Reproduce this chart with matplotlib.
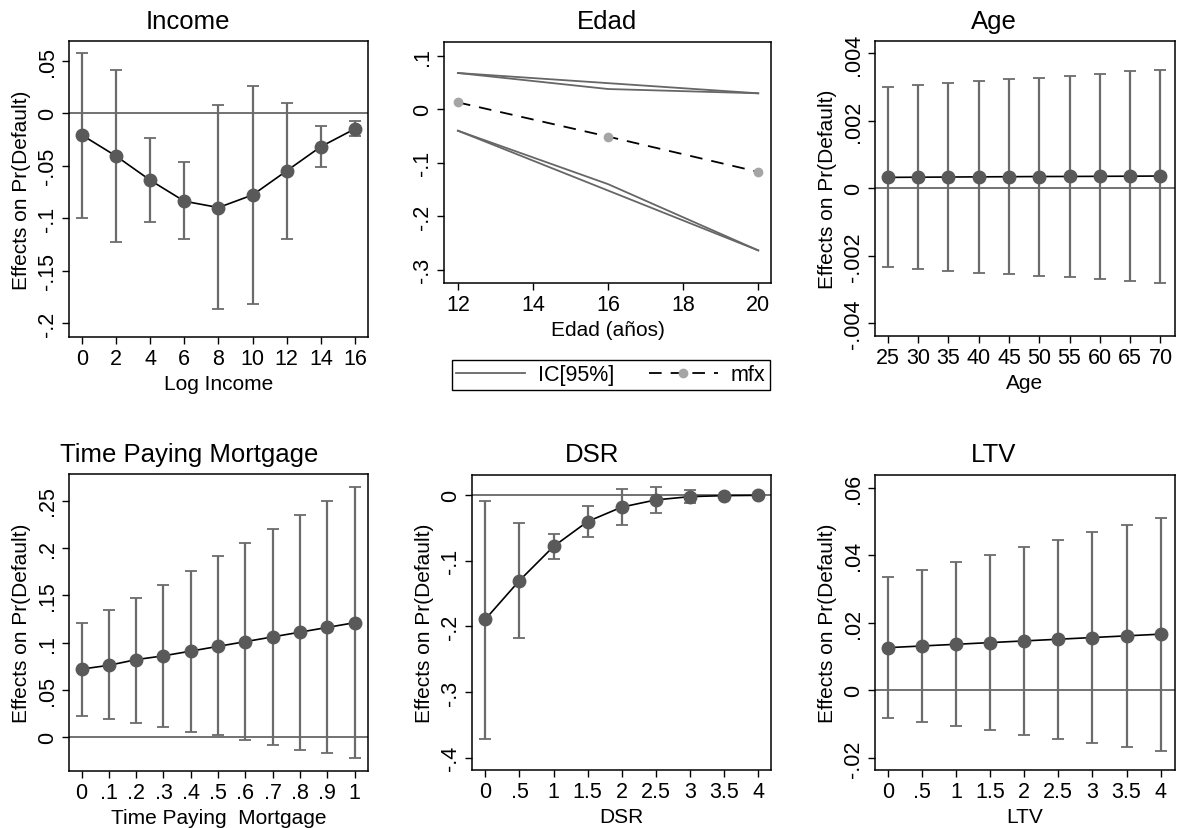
import numpy as np
import matplotlib
matplotlib.use("Agg")
from matplotlib import pyplot as plt

plt.rcParams['font.family'] = ['Liberation Sans', 'DejaVu Sans']

W, H = 1177, 829

# --- data ---
income_x = [0, 2, 4, 6, 8, 10, 12, 14, 16]
income_y = [-0.021, -0.041, -0.064, -0.084, -0.090, -0.078, -0.055, -0.032, -0.015]
income_hi = [0.057, 0.041, -0.024, -0.047, 0.008, 0.026, 0.010, -0.012, -0.008]
income_lo = [-0.100, -0.123, -0.104, -0.120, -0.187, -0.182, -0.120, -0.051, -0.022]

edad_x = [12, 16, 20]
edad_mfx = [0.013, -0.051, -0.117]
edad_hi1 = [0.068, 0.049, 0.030]
edad_hi2 = [0.068, 0.038, 0.030]
edad_lo1 = [-0.040, -0.140, -0.264]
edad_lo2 = [-0.040, -0.152, -0.264]

age_x = [25, 30, 35, 40, 45, 50, 55, 60, 65, 70]
age_y = [0.000325, 0.00033, 0.000335, 0.00034, 0.000345, 0.00035, 0.000352, 0.000356, 0.00036, 0.000365]
age_hi = [0.00300, 0.00306, 0.00311, 0.00318, 0.00324, 0.00328, 0.00334, 0.00340, 0.00347, 0.00352]
age_lo = [-0.00234, -0.00239, -0.00244, -0.00250, -0.00255, -0.00259, -0.00264, -0.00270, -0.00275, -0.00280]

tpm_x = [0, .1, .2, .3, .4, .5, .6, .7, .8, .9, 1]
tpm_y = [0.072, 0.076, 0.082, 0.086, 0.091, 0.096, 0.101, 0.106, 0.111, 0.116, 0.121]
tpm_hi = [0.121, 0.134, 0.147, 0.161, 0.176, 0.191, 0.205, 0.220, 0.235, 0.250, 0.264]
tpm_lo = [0.023, 0.019, 0.015, 0.011, 0.006, 0.002, -0.003, -0.008, -0.013, -0.017, -0.022]

dsr_x = [0, .5, 1, 1.5, 2, 2.5, 3, 3.5, 4]
dsr_y = [-0.189, -0.130, -0.078, -0.040, -0.018, -0.007, -0.002, -0.0005, 0.0]
dsr_hi = [-0.008, -0.042, -0.059, -0.017, 0.009, 0.012, 0.008, 0.001, 0.0003]
dsr_lo = [-0.371, -0.218, -0.097, -0.064, -0.046, -0.027, -0.012, -0.002, -0.0003]

ltv_x = [0, .5, 1, 1.5, 2, 2.5, 3, 3.5, 4]
ltv_y = [0.0126, 0.0131, 0.0136, 0.0141, 0.0146, 0.0151, 0.0156, 0.0161, 0.0166]
ltv_hi = [0.0336, 0.0357, 0.0380, 0.0400, 0.0424, 0.0446, 0.0468, 0.0489, 0.0510]
ltv_lo = [-0.0083, -0.0095, -0.0106, -0.0119, -0.0131, -0.0143, -0.0155, -0.0167, -0.0179]

BAR = '#6b6b6b'
DOT = '#595959'
ZERO = '#5a5a5a'
TICK_FS = 15.5
LAB_FS = 15
TITLE_FS = 18.5


def px_axes(fig, left, top, right, bottom):
    return fig.add_axes([left / W, 1 - bottom / H, (right - left) / W, (bottom - top) / H])


def style(ax):
    for s in ax.spines.values():
        s.set_linewidth(1.1)
    ax.tick_params(direction='out', length=5, width=1.0, labelsize=TICK_FS, pad=3)
    ax.tick_params(axis='y', labelrotation=90)
    for lab in ax.get_yticklabels():
        lab.set_va('center')


def margins_panel(ax, x, y, lo, hi, xlabel, ylim, xlim, yticks, ylabs, xticks, xlabs):
    ax.axhline(0, color=ZERO, lw=1.2, zorder=1)
    y = np.array(y)
    err = [y - np.array(lo), np.array(hi) - y]
    ax.errorbar(x, y, yerr=err, fmt='none', ecolor=BAR, elinewidth=1.6,
                capsize=4, capthick=1.3, zorder=2)
    ax.plot(x, y, color='black', lw=1.2, zorder=3)
    ax.plot(x, y, 'o', color=DOT, ms=9, zorder=4)
    ax.set_xlim(*xlim)
    ax.set_ylim(*ylim)
    ax.set_xticks(xticks)
    ax.set_xticklabels(xlabs)
    ax.set_yticks(yticks)
    ax.set_yticklabels(ylabs)
    ax.set_xlabel(xlabel, fontsize=LAB_FS, labelpad=3.5)
    ax.set_ylabel('Effects on Pr(Default)', fontsize=LAB_FS, labelpad=4)
    style(ax)


fig = plt.figure(figsize=(W / 100, H / 100), dpi=100)

# Income
ax = px_axes(fig, 69, 42, 368, 338)
margins_panel(ax, income_x, income_y, income_lo, income_hi, 'Log Income',
              (-0.2133, 0.0686), (-0.76, 16.76),
              [0.05, 0, -0.05, -0.1, -0.15, -0.2], ['.05', '0', '-.05', '-.1', '-.15', '-.2'],
              income_x, [str(v) for v in income_x])
fig.text(188 / W, 1 - 22 / H, 'Income', ha='center', va='center', fontsize=TITLE_FS)

# Edad
ax = px_axes(fig, 444, 43, 771, 284)
l1, = ax.plot(edad_x, edad_hi1, color='#666666', lw=1.3)
ax.plot(edad_x, edad_hi2, color='#666666', lw=1.3)
ax.plot(edad_x, edad_lo1, color='#666666', lw=1.3)
ax.plot(edad_x, edad_lo2, color='#666666', lw=1.3)
l2, = ax.plot(edad_x, edad_mfx, color='black', lw=1.3, ls=(0, (7, 5)),
              marker='o', ms=6, mfc='#a5a5a5', mec='#a5a5a5')
ax.set_xlim(11.63, 20.34)
ax.set_ylim(-0.325, 0.126)
ax.set_xticks([12, 14, 16, 18, 20])
ax.set_yticks([0.1, 0, -0.1, -0.2, -0.3])
ax.set_yticklabels(['.1', '0', '-.1', '-.2', '-.3'])
ax.set_xlabel('Edad (años)', fontsize=LAB_FS, labelpad=3.5)
style(ax)
leg = fig.legend([l1, l2], ['IC[95%]', 'mfx'], ncol=2, fontsize=15.5,
                 loc='upper left', bbox_to_anchor=(452 / W, 1 - 361 / H),
                 borderaxespad=0, fancybox=False, edgecolor='black', framealpha=1,
                 handlelength=3.2, columnspacing=1.6, borderpad=0.2, handletextpad=0.6)
leg.get_frame().set_linewidth(1.0)
fig.text(607 / W, 1 - 22 / H, 'Edad', ha='center', va='center', fontsize=TITLE_FS)

# Age
ax = px_axes(fig, 875, 42, 1175, 337)
margins_panel(ax, age_x, age_y, age_lo, age_hi, 'Age',
              (-0.00438, 0.00437), (22.9, 72.4),
              [0.004, 0.002, 0, -0.002, -0.004], ['.004', '.002', '0', '-.002', '-.004'],
              age_x, [str(v) for v in age_x])
fig.text(994 / W, 1 - 22 / H, 'Age', ha='center', va='center', fontsize=TITLE_FS)

# Time Paying Mortgage
ax = px_axes(fig, 69, 475, 368, 772)
margins_panel(ax, tpm_x, tpm_y, tpm_lo, tpm_hi, 'Time Paying  Mortgage',
              (-0.0356, 0.278), (-0.046, 1.049),
              [0.25, 0.2, 0.15, 0.1, 0.05, 0], ['.25', '.2', '.15', '.1', '.05', '0'],
              tpm_x, ['0', '.1', '.2', '.3', '.4', '.5', '.6', '.7', '.8', '.9', '1'])
fig.text(189 / W, 1 - 455 / H, 'Time Paying Mortgage', ha='center', va='center', fontsize=TITLE_FS)

# DSR
ax = px_axes(fig, 472, 476, 771, 771)
margins_panel(ax, dsr_x, dsr_y, dsr_lo, dsr_hi, 'DSR',
              (-0.419, 0.031), (-0.196, 4.19),
              [0, -0.1, -0.2, -0.3, -0.4], ['0', '-.1', '-.2', '-.3', '-.4'],
              dsr_x, ['0', '.5', '1', '1.5', '2', '2.5', '3', '3.5', '4'])
fig.text(592 / W, 1 - 455 / H, 'DSR', ha='center', va='center', fontsize=TITLE_FS)

# LTV
ax = px_axes(fig, 875, 476, 1175, 771)
margins_panel(ax, ltv_x, ltv_y, ltv_lo, ltv_hi, 'LTV',
              (-0.0236, 0.0637), (-0.186, 4.21),
              [0.06, 0.04, 0.02, 0, -0.02], ['.06', '.04', '.02', '0', '-.02'],
              ltv_x, ['0', '.5', '1', '1.5', '2', '2.5', '3', '3.5', '4'])
fig.text(994 / W, 1 - 455 / H, 'LTV', ha='center', va='center', fontsize=TITLE_FS)

fig.savefig('out.png', dpi=100)
